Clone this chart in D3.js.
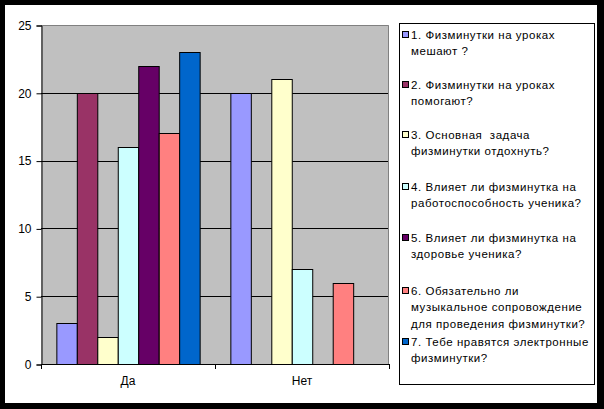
<!DOCTYPE html>
<html><head><meta charset="utf-8">
<script src="https://cdn.jsdelivr.net/npm/d3@7"></script>
<style>html,body{margin:0;padding:0;background:#000;}svg{display:block;}</style>
</head><body>
<script>
const categories = ["Да", "Нет"];
const seriesNames = [
  ["1. Физминутки на уроках", "мешают ?"],
  ["2. Физминутки на уроках", "помогают?"],
  ["3. Основная  задача", "физминутки отдохнуть?"],
  ["4. Влияет ли физминутка на", "работоспособность ученика?"],
  ["5. Влияет ли физминутка на", "здоровье ученика?"],
  ["6. Обязательно ли", "музыкальное сопровождение", "для проведения физминутки?"],
  ["7. Тебе нравятся электронные", "физминутки?"]
];
const valuesDa  = [3, 20, 2, 16, 22, 17, 23];
const valuesNet = [20, 0, 21, 7, 0, 6, 0];
const colors = ["#9999FF", "#993366", "#FFFFCC", "#CCFFFF", "#660066", "#FF8080", "#0066CC"];
const yTicks = [0, 5, 10, 15, 20, 25];

const W = 604, H = 409;
const svg = d3.select("body").append("svg").attr("width", W).attr("height", H);
svg.append("rect").attr("width", W).attr("height", H).attr("fill", "#000");
svg.append("rect").attr("x", 5).attr("y", 5).attr("width", 592).attr("height", 398).attr("fill", "#fff");

const pl = 41, pr = 389, pt = 25, pb = 364;
const x0 = d3.scaleBand().domain(categories).range([pl, pr]).paddingInner(0).paddingOuter(0);
const sIdx = d3.range(7);
const x1 = d3.scaleBand().domain(sIdx).range([0, x0.bandwidth()]).paddingOuter(0.75).paddingInner(0);
const y = d3.scaleLinear().domain([0, 25]).range([pb, pt]);
const font = "'Liberation Sans', Arial, sans-serif";

svg.append("rect").attr("x", pl).attr("y", pt).attr("width", pr - pl).attr("height", pb - pt).attr("fill", "#C0C0C0");
svg.append("g").selectAll("line").data(yTicks.filter(t => t > 0 && t < 25)).join("line")
  .attr("x1", pl).attr("x2", pr).attr("y1", d => Math.round(y(d)) + 0.5).attr("y2", d => Math.round(y(d)) + 0.5)
  .attr("stroke", "#000").attr("stroke-width", 1);
svg.append("path").attr("d", `M${pl},${pt + 0.5}H${pr - 0.5}V${pb}`).attr("fill", "none").attr("stroke", "#808080");

const data = categories.map((c, ci) => ({ c, vals: ci === 0 ? valuesDa : valuesNet }));
const g = svg.append("g");
data.forEach(d => {
  g.append("g").selectAll("rect").data(d.vals.map((v, i) => ({ v, i })).filter(e => e.v > 0)).join("rect")
    .attr("x", e => x0(d.c) + x1(e.i) + 0.5)
    .attr("y", e => Math.round(y(e.v)) + 0.5)
    .attr("width", x1.bandwidth())
    .attr("height", e => pb - Math.round(y(e.v)))
    .attr("fill", e => colors[e.i]).attr("stroke", "#000").attr("stroke-width", 1);
});

const yAxis = d3.axisLeft(y).tickValues(yTicks).tickSize(5).tickPadding(5);
const ya = svg.append("g").attr("transform", `translate(${pl + 0.5},0.5)`).call(yAxis);
ya.select(".domain").attr("stroke", "#000");
ya.selectAll("text").attr("font-family", font).attr("font-size", 12).attr("fill", "#000");
const xAxis = d3.axisBottom(x0).tickSize(0).tickPadding(12);
const xa = svg.append("g").attr("transform", `translate(0,${pb + 0.5})`).call(xAxis);
xa.select(".domain").attr("d", `M${pl},0H${pr}`).attr("stroke", "#000");
xa.selectAll("text").attr("font-family", font).attr("font-size", 12).attr("fill", "#000");
svg.append("g").selectAll("line").data([pl, x0("Нет"), pr]).join("line")
  .attr("x1", d => Math.round(d) + 0.5).attr("x2", d => Math.round(d) + 0.5)
  .attr("y1", pb).attr("y2", pb + 5).attr("stroke", "#000");

const lg = svg.append("g");
lg.append("rect").attr("x", 399.5).attr("y", 23.5).attr("width", 195).attr("height", 361)
  .attr("fill", "#fff").attr("stroke", "#000");
const entryY = [35, 85, 135, 187, 238, 291, 342];
seriesNames.forEach((lines, i) => {
  const yy = entryY[i];
  lg.append("rect").attr("x", 402.5).attr("y", yy - 3.5).attr("width", 6).attr("height", 6)
    .attr("fill", colors[i]).attr("stroke", "#000");
  const t = lg.append("text").attr("font-family", font).attr("font-size", 11.5).attr("fill", "#000")
    .attr("letter-spacing", "0.55px").style("white-space", "pre");
  lines.forEach((ln, k) => {
    t.append("tspan").attr("x", 411).attr("y", yy + 4 + k * 16.3).text(ln);
  });
});
</script>
</body></html>
